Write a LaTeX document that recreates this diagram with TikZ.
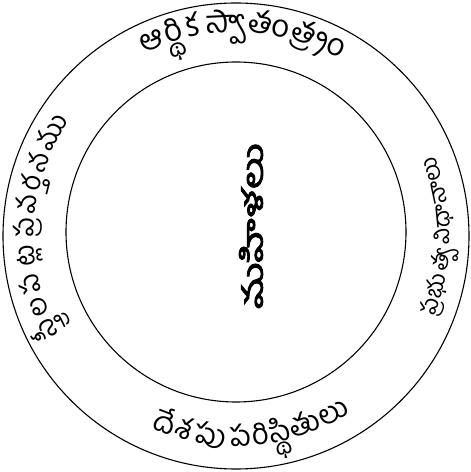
\documentclass[tikz,border=0pt]{standalone}
\usepackage{fontspec}
\newfontfamily\tel[Script=Telugu]{Hind Guntur}
\newfontfamily\telb[Script=Telugu, FakeBold=3, FakeStretch=1.6]{Hind Guntur}
\newdimen\arctot \newdimen\arccum \newcount\arcn
\newcommand\telsize{26}
\newcommand\telfont{\tel\fontsize{\telsize}{\telsize}\selectfont}
% measured outside the picture (fonts are null inside it): #1 name, #2 size, #3 clusters
\newcommand\premeasure[3]{%
  \renewcommand\telsize{#2}%
  \global\arctot=0pt \global\arcn=0
  \foreach \cl [count=\i] in {#3} {\setbox0=\hbox{\telfont\cl}%
    \expandafter\xdef\csname aw@#1@\i\endcsname{\the\wd0}%
    \global\advance\arctot by \wd0 \global\advance\arcn by 1}%
  \expandafter\xdef\csname at@#1\endcsname{\the\arctot}%
  \expandafter\xdef\csname an@#1\endcsname{\the\arcn}%
  \expandafter\gdef\csname al@#1\endcsname{#3}%
  \expandafter\xdef\csname as@#1\endcsname{#2}%
}
% #1 name, #2 centre, #3 radius, #4 centre angle, #5 sign (1: clockwise, tops out; -1: anticlockwise, tops in), #6 arc length to fill
\newcommand\arctext[6]{%
  \edef\telsize{\csname as@#1\endcsname}%
  \edef\curtot{\csname at@#1\endcsname}%
  \edef\curn{\csname an@#1\endcsname}%
  \expandafter\let\expandafter\curlist\csname al@#1\endcsname
  \pgfmathsetmacro\arcgap{(#6 - \curtot)/\curn}%
  \global\arccum=0pt
  \foreach \cl [count=\i] in \curlist {%
    \edef\curw{\csname aw@#1@\i\endcsname}%
    \pgfmathsetmacro\arcang{#4 + #5*(0.5*#6 - \the\arccum - 0.5*\arcgap - 0.5*\curw)/#3*57.29578}%
    \pgfmathsetmacro\arcrot{\arcang - #5*90}%
    \node[arcglyph, rotate=\arcrot] at ([shift={(\arcang:#3)}]#2) {\cl};
    \global\advance\arccum by \curw
    \global\advance\arccum by \arcgap pt
  }%
}
\premeasure{top}{31}{ఆ,ర్థి,క~,స్వా,తం,త్ర్యం}
\premeasure{bot}{29}{దే,శ,పు~,ప,రి,స్థి,తు,లు}
\premeasure{lft}{27}{స్త్రీ,ల,ప,ట్ల~,ప్ర,వ,ర్త,న,ము}
\premeasure{rgt}{23}{ప్ర,భు,త్వ~,వి,ధా,నా,లు}
\tikzset{
  ring/.style={draw=black, line width=1.1pt},
  arcglyph/.style={anchor=base, inner sep=0pt, outer sep=0pt, font=\telfont}
}
\begin{document}
\begin{tikzpicture}[x=1pt,y=1pt]
\useasboundingbox (0,0) rectangle (471,472);
\coordinate (oc) at (236,236);
\coordinate (ic) at (236,240);
\node[circle, ring, minimum size=466pt, inner sep=0pt] (outer) at (oc) {};
\node[circle, ring, minimum size=340pt, inner sep=0pt] (inner) at (ic) {};
% centre
\node[rotate=90, font=\telb\fontsize{28}{30}\selectfont] (women) at (251,246) {మహిళలు};
% ring texts
\arctext{top}{oc}{204}{88}{1}{205}
\arctext{bot}{oc}{210}{274.6}{-1}{210}
\arctext{lft}{oc}{202}{177}{1}{228}
\arctext{rgt}{oc}{214}{0}{-1}{165}
\end{tikzpicture}
\end{document}
